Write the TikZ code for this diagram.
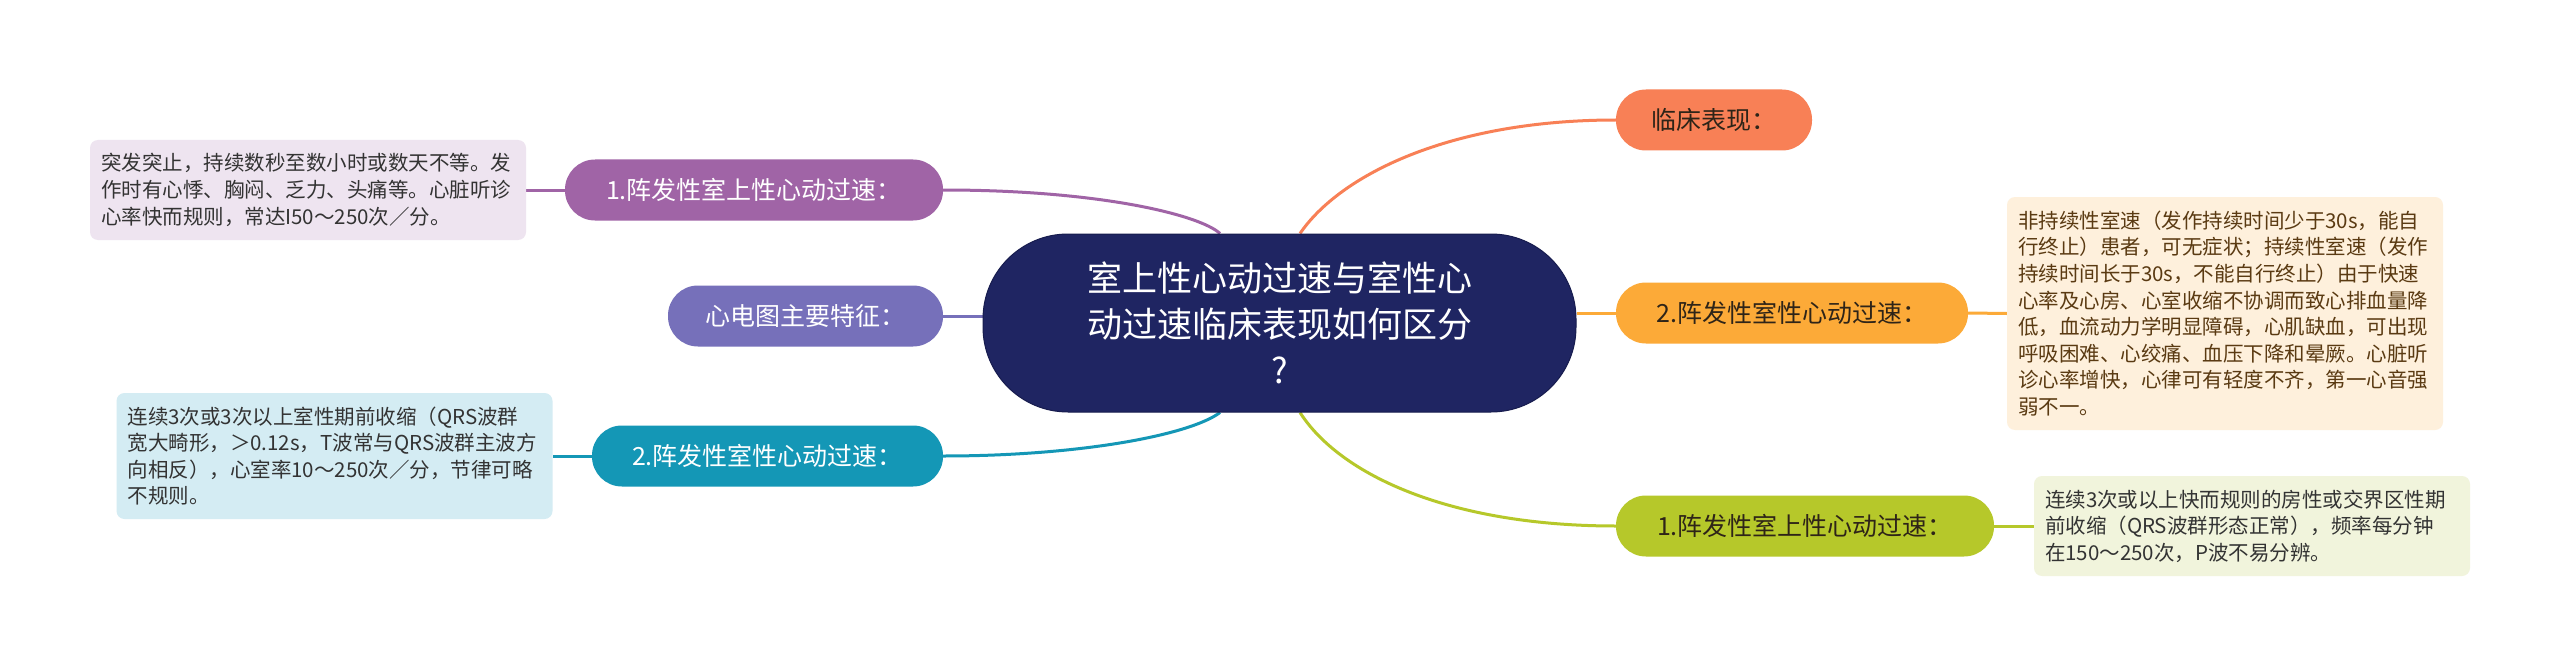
\documentclass[tikz,border=0pt]{standalone}
\usepackage{fontspec}
\setmainfont{Noto Sans CJK SC}
\usetikzlibrary{backgrounds}
\definecolor{ctrfill}{HTML}{1F2562}
\definecolor{ctrdraw}{HTML}{171C4E}
\definecolor{cpurple}{HTML}{A064A6}
\definecolor{clav}{HTML}{7670BA}
\definecolor{cteal}{HTML}{1497B6}
\definecolor{corange}{HTML}{F88056}
\definecolor{cyellow}{HTML}{FCAA38}
\definecolor{cgreen}{HTML}{B6C82A}
\definecolor{lpurple}{HTML}{EEE4F0}
\definecolor{lteal}{HTML}{D4ECF3}
\definecolor{lorange}{HTML}{FEF0DC}
\definecolor{lgreen}{HTML}{F1F4DC}
\definecolor{darktext}{HTML}{333333}
\definecolor{browntext}{HTML}{5A3A12}
\definecolor{pilltext}{HTML}{2E2418}
\begin{document}
\begin{tikzpicture}[x=1pt,y=-1pt,
  pill/.style={rounded corners=30pt, inner sep=0pt, minimum height=61pt, font=\fontsize{25pt}{30pt}\selectfont},
  leaf/.style={rounded corners=8pt, inner xsep=11pt, inner ysep=0pt, text width=414pt, align=left, font=\fontsize{20.5pt}{26.6pt}\selectfont},
  conn/.style={line width=3pt}]
\useasboundingbox (0,0) rectangle (2560,666);

% central topic
\node[rounded corners=85pt, fill=ctrfill, draw=ctrdraw, line width=1pt, text=white,
  minimum width=593pt, minimum height=178pt, inner sep=0pt, align=center,
  font=\fontsize{35pt}{46pt}\selectfont] (ctr) at (1279.5,323)
  {室上性心动过速与室性心\\动过速临床表现如何区分\\?};

% left branches
\node[pill, fill=cpurple, text=white, minimum width=378pt] (p1) at (754,190) {1.阵发性室上性心动过速：};
\node[pill, fill=clav, text=white, minimum width=275pt] (p2) at (805.5,316) {心电图主要特征：};
\node[pill, fill=cteal, text=white, minimum width=351pt] (p3) at (767.5,456) {2.阵发性室性心动过速：};

% right branches
\node[pill, fill=corange, text=pilltext, minimum width=196pt] (q1) at (1714,120) {临床表现：};
\node[pill, fill=cyellow, text=pilltext, minimum width=352pt] (q2) at (1792,313) {2.阵发性室性心动过速：};
\node[pill, fill=cgreen, text=pilltext, minimum width=378pt] (q3) at (1805,526) {1.阵发性室上性心动过速：};

% leaves
\node[leaf, fill=lpurple, text=darktext, minimum height=100pt] (l1) at (308,190)
  {突发突止，持续数秒至数小时或数天不等。发\\作时有心悸、胸闷、乏力、头痛等。心脏听诊\\心率快而规则，常达I50～250次／分。};
\node[leaf, fill=lteal, text=darktext, minimum height=126pt] (l3) at (334.5,456)
  {连续3次或3次以上室性期前收缩（QRS波群\\宽大畸形，＞0.12s，T波常与QRS波群主波方\\向相反），心室率10～250次／分，节律可略\\不规则。};
\node[leaf, fill=lorange, text=browntext, minimum height=233pt] (r2) at (2225,313.5)
  {非持续性室速（发作持续时间少于30s，能自\\行终止）患者，可无症状；持续性室速（发作\\持续时间长于30s，不能自行终止）由于快速\\心率及心房、心室收缩不协调而致心排血量降\\低，血流动力学明显障碍，心肌缺血，可出现\\呼吸困难、心绞痛、血压下降和晕厥。心脏听\\诊心率增快，心律可有轻度不齐，第一心音强\\弱不一。};
\node[leaf, fill=lgreen, text=darktext, minimum height=100pt] (r3) at (2252,526)
  {连续3次或以上快而规则的房性或交界区性期\\前收缩（QRS波群形态正常），频率每分钟\\在150～250次，P波不易分辨。};

% background and connectors
\begin{scope}[on background layer]
\fill[white] (0,0) rectangle (2560,666);
\draw[conn, cpurple] ([xshift=-59.5pt]ctr.north) .. controls (1200,215) and (1100,190) .. (p1.east);
\draw[conn, clav] (ctr.west |- p2.east) -- (p2.east);
\draw[conn, cteal] ([xshift=-59.5pt]ctr.south) .. controls (1190,435) and (1080,456) .. (p3.east);
\draw[conn, corange] ([xshift=20.5pt]ctr.north) .. controls (1340,175) and (1450,120) .. (q1.west);
\draw[conn, cyellow] (ctr.east |- q2.west) -- (q2.west);
\draw[conn, cgreen] ([xshift=20.5pt]ctr.south) .. controls (1340,475) and (1450,526) .. (q3.west);
\draw[conn, cpurple] (p1.west) -- (l1.east);
\draw[conn, cteal] (p3.west) -- (l3.east);
\draw[conn, cyellow] (q2.east) -- (r2.west);
\draw[conn, cgreen] (q3.east) -- (r3.west);
\end{scope}
\end{tikzpicture}
\end{document}
